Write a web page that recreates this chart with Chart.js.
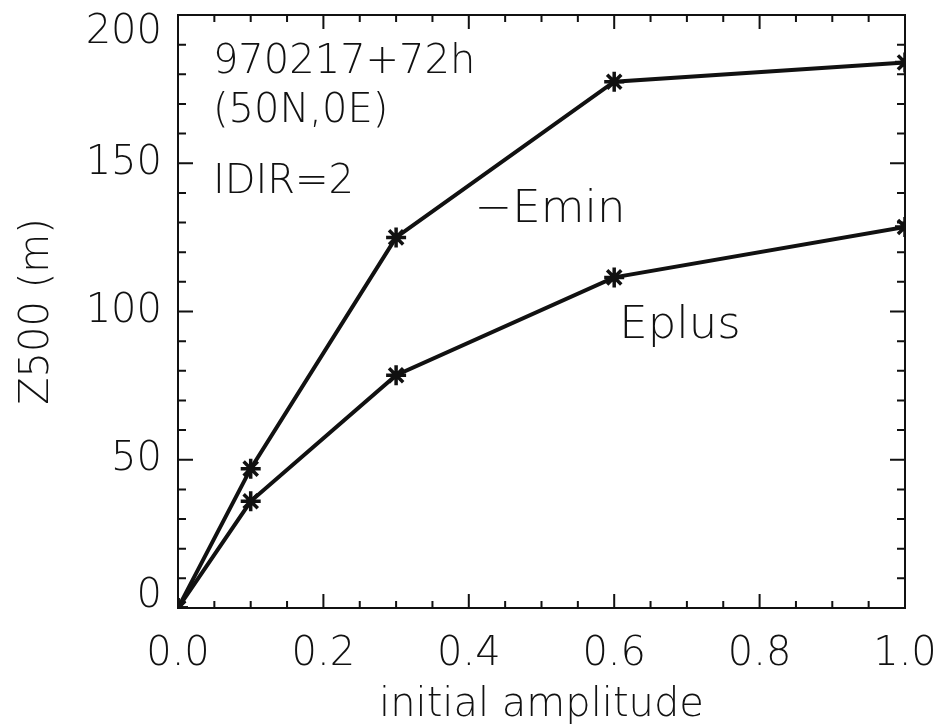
<!DOCTYPE html>
<html>
<head>
<meta charset="utf-8">
<script src="https://cdn.jsdelivr.net/npm/chart.js@4.4.1/dist/chart.umd.min.js"></script>
<style>
  html, body { margin: 0; padding: 0; background: #ffffff; }
  #wrap { position: relative; width: 945px; height: 724px; }
</style>
</head>
<body>
<div id="wrap"><canvas id="c" width="945" height="724"></canvas></div>
<script>
// ---- data ----
const amplitudes = [0.0, 0.1, 0.3, 0.6, 1.0];
const eminValues = [0, 47, 125, 177.5, 184];
const eplusValues = [0, 36, 78.5, 111.5, 128.5];
const xTickValues = [0.0, 0.2, 0.4, 0.6, 0.8, 1.0];
const xTickLabels = ['0.0', '0.2', '0.4', '0.6', '0.8', '1.0'];
const yTickValues = [0, 50, 100, 150, 200];
const yTickLabels = ['0', '50', '100', '150', '200'];
const annotationTexts = ['970217+72h', '(50N,0E)', 'IDIR=2', '\u2212Emin', 'Eplus'];
const xTitle = 'initial amplitude';
const yTitle = 'Z500 (m)';

// ---- styling / layout ----
const FONT = '"DejaVu Sans", "Liberation Sans", sans-serif';
const INK = '#111111';
const annotationLayout = [
  { x: 0.048, y: 180.5, size: 40 },
  { x: 0.048, y: 164.0, size: 40 },
  { x: 0.048, y: 140.0, size: 40 },
  { x: 0.408, y: 130.2, size: 45 },
  { x: 0.607, y: 91.0,  size: 45 }
];

const frameTicks = {
  id: 'frameTicks',
  afterDatasetsDraw(chart) {
    const { ctx, chartArea: a, scales: { x, y } } = chart;
    ctx.save();
    ctx.strokeStyle = INK;
    ctx.lineWidth = 2;
    ctx.strokeRect(a.left, a.top, a.right - a.left, a.bottom - a.top);
    ctx.beginPath();
    for (let v = 0; v <= 1.0001; v += 0.05) {
      const px = x.getPixelForValue(v);
      const major = Math.abs(v / 0.2 - Math.round(v / 0.2)) < 1e-6;
      const len = major ? 14 : 7;
      ctx.moveTo(px, a.bottom); ctx.lineTo(px, a.bottom - len);
      ctx.moveTo(px, a.top); ctx.lineTo(px, a.top + len);
    }
    for (let v = 0; v <= 200; v += 10) {
      const py = y.getPixelForValue(v);
      const len = (v % 50 === 0) ? 15 : 8;
      ctx.moveTo(a.left, py); ctx.lineTo(a.left + len, py);
      ctx.moveTo(a.right, py); ctx.lineTo(a.right - len, py);
    }
    ctx.stroke();

    ctx.fillStyle = INK;
    ctx.textBaseline = 'alphabetic';
    ctx.textAlign = 'left';
    annotationTexts.forEach((t, i) => {
      const L = annotationLayout[i];
      ctx.font = '300 ' + L.size + 'px ' + FONT;
      ctx.fillText(t, x.getPixelForValue(L.x), y.getPixelForValue(L.y));
    });
    ctx.restore();
  }
};

function seriesPoints(vals) {
  return amplitudes.map((a, i) => ({ x: a, y: vals[i] }));
}

const lineStyle = {
  borderColor: INK,
  borderWidth: 4,
  pointStyle: 'star',
  pointRadius: 10,
  pointBorderWidth: 3.5,
  pointBorderColor: INK,
  pointBackgroundColor: INK,
  tension: 0,
  fill: false
};

new Chart(document.getElementById('c'), {
  type: 'line',
  data: {
    datasets: [
      Object.assign({ label: '-Emin', data: seriesPoints(eminValues) }, lineStyle),
      Object.assign({ label: 'Eplus', data: seriesPoints(eplusValues) }, lineStyle)
    ]
  },
  options: {
    responsive: false,
    animation: false,
    devicePixelRatio: 1,
    layout: { padding: { top: 15, right: 40, bottom: 0, left: 0 } },
    plugins: { legend: { display: false }, tooltip: { enabled: false } },
    scales: {
      x: {
        type: 'linear',
        min: 0, max: 1,
        afterBuildTicks(scale) { scale.ticks = xTickValues.map(v => ({ value: v })); },
        afterFit(scale) {
          scale.height = 116;
          scale.paddingLeft = 0; scale.paddingRight = 0;
        },
        grid: { display: false, drawTicks: false },
        border: { display: false },
        ticks: {
          color: INK,
          padding: 23,
          maxRotation: 0,
          autoSkip: false,
          font: { family: FONT, size: 40, weight: '300' },
          callback(v, i) { return xTickLabels[i]; }
        },
        title: {
          display: true, text: xTitle, color: INK,
          padding: { top: 0, bottom: -6 },
          font: { family: FONT, size: 40, weight: '300' }
        }
      },
      y: {
        type: 'linear',
        min: 0, max: 200,
        afterBuildTicks(scale) { scale.ticks = yTickValues.map(v => ({ value: v })); },
        afterFit(scale) {
          scale.width = 178;
          scale.paddingTop = 0; scale.paddingBottom = 0;
        },
        grid: { display: false, drawTicks: false },
        border: { display: false },
        ticks: {
          color: INK,
          padding: 16,
          autoSkip: false,
          font(ctx) {
            const i = ctx.index;
            let lh = 1.2;
            if (i === yTickValues.length - 1) lh = '36px';
            if (i === 0) lh = '22px';
            return { family: FONT, size: 40, weight: '300', lineHeight: lh };
          },
          callback(v, i) {
            if (i === yTickValues.length - 1) return ['', yTickLabels[i]];
            if (i === 0) return [yTickLabels[i], ''];
            return yTickLabels[i];
          }
        },
        title: {
          display: true, text: yTitle, color: INK,
          padding: { top: 14, bottom: 0 },
          font: { family: FONT, size: 40, weight: '300' }
        }
      }
    }
  },
  plugins: [frameTicks]
});
</script>
</body>
</html>
